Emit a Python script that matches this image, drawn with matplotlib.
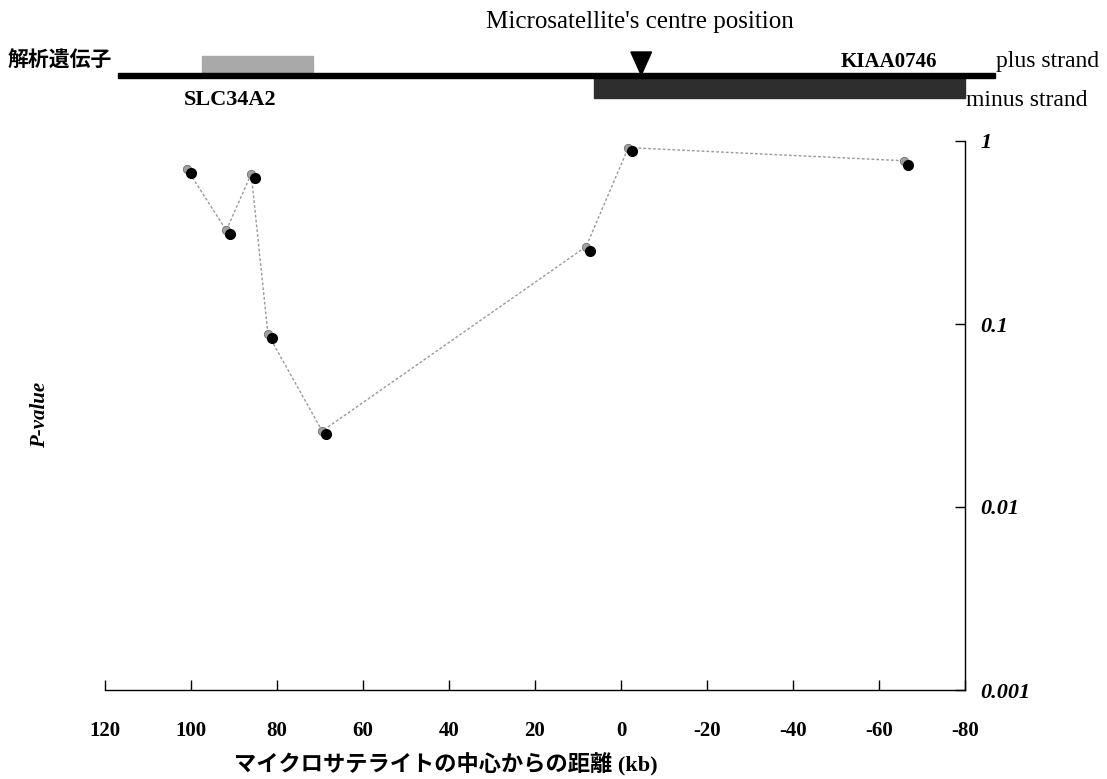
import matplotlib.pyplot as plt
from matplotlib.patches import Rectangle, Polygon
import numpy as np

plt.rcParams['font.family'] = ['Liberation Serif', 'Noto Sans CJK JP']

# distance from the microsatellite centre (kb) and P-values
dist_kb = [100.0, 90.9, 85.1, 81.2, 68.6, 7.2, -2.6, -66.7]
p_black = [0.668, 0.309, 0.627, 0.084, 0.025, 0.252, 0.88, 0.74]
dist_kb_grey = [100.9, 91.8, 86.0, 82.1, 69.5, 8.1, -1.7, -65.8]
p_grey = [0.70, 0.325, 0.66, 0.088, 0.026, 0.265, 0.92, 0.78]

x_ticks = [120, 100, 80, 60, 40, 20, 0, -20, -40, -60, -80]
y_ticks = [0.001, 0.01, 0.1, 1]
y_ticklabels = ['0.001', '0.01', '0.1', '1']

# gene map (kb)
genes = ['SLC34A2', 'KIAA0746']
gene_start = [97.4, 6.3]
gene_end = [71.6, -80.0]
chrom_span = [117.0, -87.0]
ms_centre = -4.7

W, H = 1107, 779
fig = plt.figure(figsize=(W / 100, H / 100), dpi=100)


def fx(px):
    return px / W


def fy(py):
    return 1 - py / H


ax = fig.add_axes([fx(105), fy(690), fx(860), 549 / H])
ax.plot(dist_kb_grey, p_grey, color='#9a9a9a', lw=1.0, ls=(0, (2, 1.5)), zorder=2)
ax.plot(dist_kb_grey, p_grey, 'o', color='#a0a0a0', ms=6, mec='#707070', mew=0.6, zorder=3)
ax.plot(dist_kb, p_black, 'o', color='black', ms=7, zorder=4)

ax.set_yscale('log')
ax.set_ylim(0.001, 1)
ax.set_xlim(120, -80)
ax.set_xticks(x_ticks)
ax.set_xticklabels([str(t) for t in x_ticks], fontsize=15, fontweight='bold')
ax.set_yticks(y_ticks)
ax.set_yticklabels(y_ticklabels, fontsize=16, fontweight='bold', fontstyle='italic')
ax.yaxis.set_minor_locator(plt.NullLocator())
ax.yaxis.tick_right()
ax.spines['left'].set_visible(False)
ax.spines['top'].set_visible(False)
for s in ('right', 'bottom'):
    ax.spines[s].set_linewidth(1.0)
ax.tick_params(axis='x', direction='in', length=7, width=1, pad=22)
ax.tick_params(axis='y', direction='in', length=7, width=1, pad=11)

fig.text(fx(40), fy(415), 'P-value', rotation=90, ha='center', va='center',
         fontsize=15, fontweight='bold', fontstyle='italic')
fig.text(fx(446), fy(765), 'マイクロサテライトの中心からの距離 (kb)', ha='center', va='center',
         fontsize=16, fontweight='bold')

# gene map above the plot, same x scale
gax = fig.add_axes([fx(105), fy(110), fx(860), 70 / H])
gax.set_xlim(120, -80)
gax.set_ylim(110, 40)
gax.axis('off')
gax.add_patch(Rectangle((chrom_span[0], 73), chrom_span[1] - chrom_span[0], 5,
                        color='black', clip_on=False, zorder=3))
gax.add_patch(Rectangle((gene_start[0], 56), gene_end[0] - gene_start[0], 17,
                        color='#a9a9a9', clip_on=False, zorder=2))
gax.add_patch(Rectangle((gene_start[1], 78), gene_end[1] - gene_start[1], 20,
                        color='#2e2e2e', clip_on=False, zorder=2))
gax.add_patch(Polygon([(ms_centre - 2.4, 52), (ms_centre + 2.4, 52), (ms_centre, 75)],
                      closed=True, color='black', clip_on=False, zorder=4))

fig.text(fx(640), fy(22), "Microsatellite's centre position", ha='center', va='center', fontsize=18)
fig.text(fx(8), fy(62), '解析遺伝子', ha='left', va='center', fontsize=15, fontweight='bold')
fig.text(fx(889), fy(62), genes[1], ha='center', va='center', fontsize=15, fontweight='bold')
fig.text(fx(996), fy(62), 'plus strand', ha='left', va='center', fontsize=17)
fig.text(fx(230), fy(100), genes[0], ha='center', va='center', fontsize=16, fontweight='bold')
fig.text(fx(966), fy(100), 'minus strand', ha='left', va='center', fontsize=17)

fig.savefig('out.png', dpi=100)
